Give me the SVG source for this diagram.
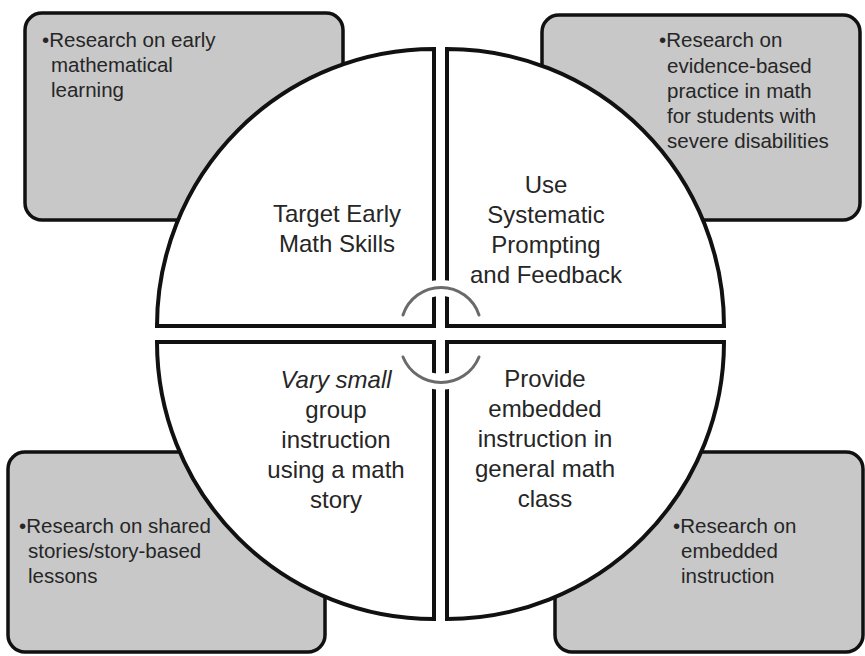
<svg xmlns="http://www.w3.org/2000/svg" width="865" height="656" viewBox="0 0 865 656">
<style>
.box{fill:#c8c8c8;stroke:#111;stroke-width:3.5}
.quad{fill:#fff;stroke:#111;stroke-width:4;stroke-linejoin:miter}
.bt{font-family:"Liberation Sans",Arial,sans-serif;font-size:20.5px;fill:#262626}
.qt{font-family:"Liberation Sans",Arial,sans-serif;font-size:24px;fill:#262626;text-anchor:middle}
.halo{fill:none;stroke:#fff;stroke-width:16}
.arc{fill:none;stroke:#6a6a6a;stroke-width:3;stroke-linecap:round}
</style>
<rect width="865" height="656" fill="#fff"/>
<g id="box-tl"><rect class="box" x="25" y="13" width="318" height="207" rx="17"/>
<text class="bt"><tspan x="42" y="47">•Research on early</tspan><tspan x="51" y="72">mathematical</tspan><tspan x="51" y="97">learning</tspan></text></g>
<g id="box-tr"><rect class="box" x="542" y="15" width="318" height="205" rx="17"/>
<text class="bt"><tspan x="659" y="47">•Research on</tspan><tspan x="667" y="73">evidence-based</tspan><tspan x="667" y="98">practice in math</tspan><tspan x="667" y="123">for students with</tspan><tspan x="667" y="148">severe disabilities</tspan></text></g>
<g id="box-bl"><rect class="box" x="8" y="452" width="317" height="200" rx="17"/>
<text class="bt"><tspan x="19" y="533">•Research on shared</tspan><tspan x="28" y="558">stories/story-based</tspan><tspan x="28" y="583">lessons</tspan></text></g>
<g id="box-br"><rect class="box" x="555" y="452" width="308" height="200" rx="17"/>
<text class="bt"><tspan x="673" y="533">•Research on</tspan><tspan x="681" y="558">embedded</tspan><tspan x="681" y="583">instruction</tspan></text></g>
<g id="quad-tl"><path class="quad" d="M434,326 L434,49 A277,277 0 0 0 157,326 Z"/>
<text class="qt"><tspan x="337" y="222">Target Early</tspan><tspan x="337" y="252">Math Skills</tspan></text></g>
<g id="quad-tr"><path class="quad" d="M447,326 L447,49 A277,277 0 0 1 724,326 Z"/>
<text class="qt"><tspan x="546" y="193">Use</tspan><tspan x="546" y="223">Systematic</tspan><tspan x="546" y="253">Prompting</tspan><tspan x="546" y="283">and Feedback</tspan></text></g>
<g id="quad-bl"><path class="quad" d="M434,342 L434,619 A277,277 0 0 1 157,342 Z"/>
<text class="qt"><tspan x="336" y="388" font-style="italic">Vary small</tspan><tspan x="336" y="418">group</tspan><tspan x="336" y="448">instruction</tspan><tspan x="336" y="478">using a math</tspan><tspan x="336" y="508">story</tspan></text></g>
<g id="quad-br"><path class="quad" d="M447,342 L447,619 A277,277 0 0 0 724,342 Z"/>
<text class="qt"><tspan x="545" y="387">Provide</tspan><tspan x="545" y="417">embedded</tspan><tspan x="545" y="447">instruction in</tspan><tspan x="545" y="477">general math</tspan><tspan x="545" y="507">class</tspan></text></g>
<g id="connectors">
<path class="halo" d="M420,294 A40,40 0 0 1 462,294"/>
<path class="halo" d="M420,376 A41,41 0 0 0 462,376"/>
<path class="arc" d="M403,315 A40,40 0 0 1 479,315"/>
<path class="arc" d="M403,357 A41,41 0 0 0 479,357"/>
</g>
</svg>
